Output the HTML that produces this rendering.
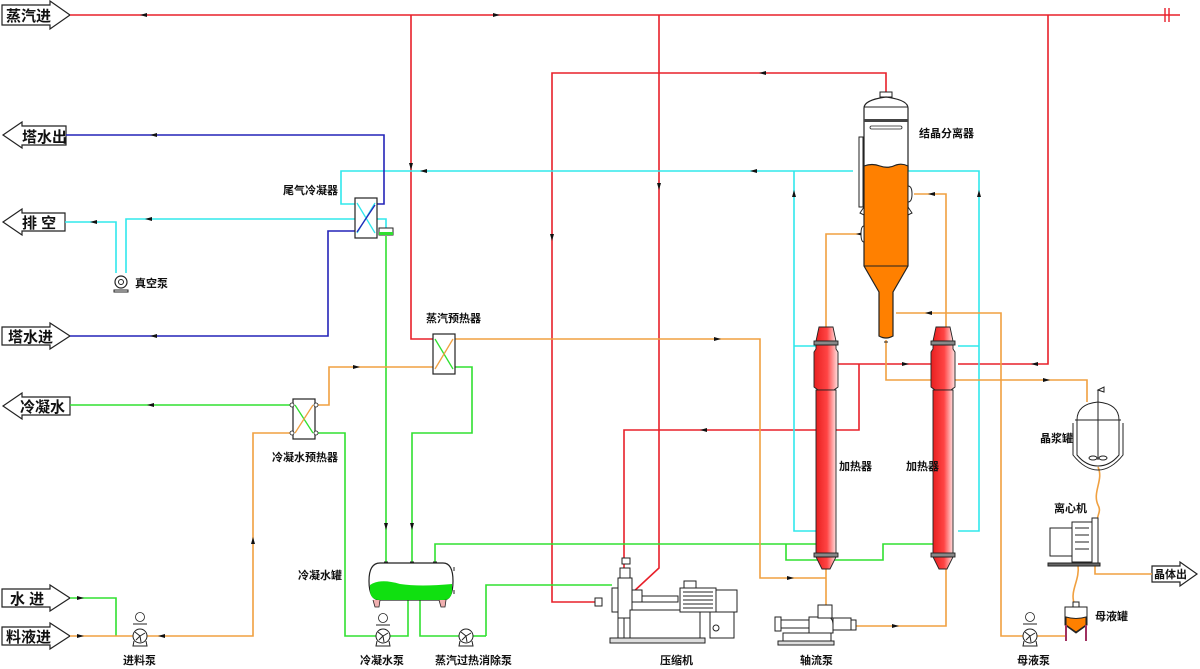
<!DOCTYPE html>
<html><head><meta charset="utf-8"><style>
html,body{margin:0;padding:0;background:#fff;}
svg{display:block;}
text{font-family:"Liberation Sans","Noto Sans CJK SC","WenQuanYi Zen Hei",sans-serif;font-weight:bold;fill:#111;}
.r{stroke:#e8202a;}.c{stroke:#30e8ec;}.b{stroke:#2424b8;}.g{stroke:#30e030;}.o{stroke:#f0a040;}
.r,.c,.b,.g,.o{fill:none;stroke-width:1.6;}
.k{fill:none;stroke:#222;stroke-width:1;}
</style></head><body>
<svg width="1200" height="669" viewBox="0 0 1200 669" xmlns="http://www.w3.org/2000/svg">
<defs>
<linearGradient id="hg" x1="0" x2="1" y1="0" y2="0"><stop offset="0" stop-color="#e82020"/><stop offset="0.55" stop-color="#f44"/><stop offset="1" stop-color="#ffe0e0"/></linearGradient>
<g id="pump"><circle cx="0" cy="0" r="7" fill="#fff" stroke="#222"/><path d="M0,0 L-5,-4 M0,0 L5,-3 M0,0 L1,6 M0,0 L-4,4" stroke="#222" fill="none"/><path d="M-6,5 L-7,10 L7,10 L6,5" fill="none" stroke="#222"/></g>
<g id="mot"><circle cx="0" cy="0" r="4.5" fill="#fff" stroke="#222" stroke-width=".8"/><line x1="-7" y1="7" x2="7" y2="7" stroke="#222"/></g>
<g id="hx"><rect x="0" y="0" width="22" height="40" fill="#fff" stroke="#222" stroke-width="1.2"/></g>
</defs>

<g stroke="#222" stroke-width="1.2" fill="#fff">
<path d="M2,5 H50 V1 L70,15 L50,29 V25 H2 Z"/>
<path d="M66,126 H22 V122 L3,135 L22,148 V145 H66 Z"/>
<path d="M65,213 H22 V209 L3,222 L22,235 V231 H65 Z"/>
<path d="M2,327 H50 V323 L70,336 L50,349 V345 H2 Z"/>
<path d="M70,397 H22 V393 L3,406 L22,419 V415 H70 Z"/>
<path d="M2,589 H50 V585 L70,598 L50,611 V607 H2 Z"/>
<path d="M2,627 H50 V623 L70,636 L50,649 V645 H2 Z"/>
<path d="M1152,566 H1180 V562 L1197,574 L1180,586 V582 H1152 Z"/>
</g>
<g font-size="15">
<text x="6" y="21">蒸汽进</text>
<text x="22" y="142">塔水出</text>
<text x="22" y="228">排 空</text>
<text x="8" y="342">塔水进</text>
<text x="20" y="412">冷凝水</text>
<text x="10" y="604">水 进</text>
<text x="6" y="642">料液进</text>
</g>
<text x="1154" y="578" font-size="11">晶体出</text>

<path class="r" d="M70,15 H1180"/>
<path d="M1165,8 V22 M1169,8 V22" stroke="#e8202a" stroke-width="1.4"/>
<path class="r" d="M411,15 V339 H433"/>
<path class="r" d="M659,15 V568 L632,593"/>
<path class="r" d="M886,92 V73 H552 V602 H596"/>
<path class="r" d="M1048,15 V364 H958"/>
<path class="r" d="M933,364 H837"/>
<path class="r" d="M859,364 V430 H624 V590"/>
<path class="c" d="M853,171 H341 V204 H355"/>
<path class="c" d="M908,171 H979 V531 H958"/>
<path class="c" d="M794,171 V531 H816"/>
<path class="c" d="M794,346 H816 M958,346 H979"/>
<path class="c" d="M355,219 H126 V273"/>
<path class="c" d="M116,273 V222 H65"/>
<path class="c" d="M377,219 H386 V229"/>
<path class="b" d="M66,135 H384 V204 H377"/>
<path class="b" d="M355,231 H328 V336 H70"/>
<path class="g" d="M386,236 V562"/>
<path class="g" d="M455,367 H472 V433 H412 V562"/>
<path class="g" d="M435,562 V544 H816"/>
<path class="g" d="M786,544 V560 H883 V544 H935"/>
<path class="g" d="M486,636 V585 H612"/>
<path class="g" d="M473,636 H486"/>
<path class="g" d="M459,636 H420 V600"/>
<path class="g" d="M390,636 H408 V600"/>
<path class="g" d="M376,636 H345 V433 H315"/>
<path class="g" d="M293,405 H70"/>
<path class="g" d="M70,598 H116 V636"/>
<path class="o" d="M315,405 H329 V367 H433"/>
<path class="o" d="M455,339 H760 V578 H826"/>
<path class="o" d="M826,568 V605"/>
<path class="o" d="M855,626 H946 V568"/>
<path class="o" d="M70,636 H133"/>
<path class="o" d="M147,636 H253 V433 H293"/>
<path class="o" d="M826,327 V234 H862"/>
<path class="o" d="M914,194 H946 V327"/>
<path class="o" d="M896,313 H1001 V636 H1023"/>
<path class="o" d="M1037,636 H1065"/>
<path class="o" d="M886,340 V380 H1087 V402"/>
<path class="o" d="M1098,467 C1104,480 1092,492 1098,505 C1102,512 1096,516 1098,520"/>
<path class="o" d="M1095,565 V574 H1152"/>
<path class="o" d="M1078,565 C1080,580 1070,590 1074,603"/>

<g fill="#111">
<path d="M140,15 l7,-2 v4z"/><path d="M500,15 l-7,-2 v4z"/>
<path d="M150,135 l7,-2 v4z"/><path d="M420,171 l7,-2 v4z"/><path d="M750,171 l7,-2 v4z"/>
<path d="M90,222 l7,-2 v4z"/><path d="M145,219 l7,-2 v4z"/><path d="M150,336 l7,-2 v4z"/>
<path d="M147,405 l7,-2 v4z"/><path d="M411,170 l-2,-7 h4z"/><path d="M552,241 l-2,-7 h4z"/>
<path d="M759,73 l7,-2 v4z"/><path d="M659,190 l-2,-7 h4z"/>
<path d="M794,190 l-2,7 h4z"/><path d="M979,190 l-2,7 h4z"/>
<path d="M360,367 l-7,-2 v4z"/><path d="M721,339 l-7,-2 v4z"/><path d="M253,537 l-2,7 h4z"/>
<path d="M386,530 l-2,-7 h4z"/><path d="M412,530 l-2,-7 h4z"/>
<path d="M84,598 l-7,-2 v4z"/><path d="M84,636 l-7,-2 v4z"/><path d="M158,636 l7,-2 v4z"/>
<path d="M909,364 l-7,-2 v4z"/><path d="M1031,364 l7,-2 v4z"/><path d="M700,430 l7,-2 v4z"/>
<path d="M794,578 l-7,-2 v4z"/><path d="M899,626 l-7,-2 v4z"/>
<path d="M856,234 l7,-2 v4z"/><path d="M928,194 l7,-2 v4z"/><path d="M925,313 l7,-2 v4z"/>
<path d="M1050,380 l-7,-2 v4z"/>
</g>

<use href="#hx" x="355" y="198"/>
<path d="M357,203 L375,233 M375,203 L357,233" stroke="#30e8ec" stroke-width="1.3"/>
<path d="M375,205 L357,232" stroke="#2424b8" stroke-width="1.3"/>
<rect x="379" y="228" width="14" height="7" fill="#fff" stroke="#222"/><rect x="379" y="232" width="14" height="3" fill="#30e030"/>
<use href="#hx" x="433" y="334"/>
<path d="M435,339 L453,369" stroke="#30e030" stroke-width="1.3"/><path d="M453,339 L435,369" stroke="#f0a040" stroke-width="1.3"/>
<use href="#hx" x="293" y="399"/>
<path d="M295,405 L313,433" stroke="#30e030" stroke-width="1.3"/><path d="M313,405 L295,433" stroke="#f0a040" stroke-width="1.3"/>
<g fill="#fff" stroke="#222" stroke-width=".8"><circle cx="292" cy="405" r="2"/><circle cx="292" cy="433" r="2"/><circle cx="316" cy="405" r="2"/><circle cx="316" cy="433" r="2"/></g>

<circle cx="121" cy="282" r="6" fill="#fff" stroke="#222" stroke-width="1.2"/><circle cx="121" cy="282" r="2.5" fill="none" stroke="#222"/>
<path d="M114,290 H128 V292 H114Z" fill="#fff" stroke="#222"/>

<path d="M380,563 H443 Q453,563 453,581 Q453,600 443,600 H380 Q369,600 369,581 Q369,563 380,563Z" fill="#fff" stroke="#222" stroke-width="1.2"/>
<path d="M370,585 Q380,578 400,584 Q420,587 452,584 L452,590 Q452,600 443,600 H380 Q370,600 370,590Z" fill="#10e010"/>
<path d="M373,600 l2,7 h4 l1,-7 M439,600 l2,7 h4 l1,-7" fill="#f0b0b0" stroke="#222" stroke-width=".8"/>
<path d="M384,562 h4 M410,562 h4 M433,562 h4 M454,567 v4 M454,590 v4" stroke="#222"/>

<use href="#pump" x="140" y="636"/><use href="#mot" x="140" y="617"/>
<use href="#pump" x="383" y="636"/><use href="#mot" x="383" y="618"/>
<use href="#pump" x="466" y="636"/>
<use href="#pump" x="1030" y="636"/><use href="#mot" x="1030" y="617"/>

<path d="M880,92 h12 v5 h-12z" fill="#fff" stroke="#222"/>
<path d="M864,170 V108 Q864,100 886,97 Q908,100 908,108 V170Z" fill="#fff" stroke="#222" stroke-width="1.2"/>
<line x1="864" y1="107" x2="908" y2="107" stroke="#222"/>
<rect x="864" y="119" width="44" height="3" fill="#444"/>
<rect x="870" y="126" width="32" height="3" rx="1.5" fill="#fff" stroke="#222" stroke-width=".8"/>
<path d="M864,166 Q872,163 880,166 Q888,169 896,165 Q902,163 908,166 V266 L893,292 V336 Q886,340 879,336 V292 L864,266Z" fill="#ff8000" stroke="#222" stroke-width="1.2"/>
<line x1="864" y1="266" x2="908" y2="266" stroke="#222"/>
<path d="M859,137 h4 v70 h-4z" fill="#fff" stroke="#222"/>
<path d="M860,213 l4,-6 v8z M912,213 l-4,-6 v8z" fill="#fff" stroke="#222"/>
<path d="M908,186 q4,0 4,8 q0,8 -4,8z" fill="#fff" stroke="#222"/>
<path d="M864,226 q-3,0 -3,8 q0,8 3,8z" fill="#fff" stroke="#222"/>
<path d="M884,342 h4" stroke="#222"/>

<g stroke="#222" stroke-width=".9">
<path d="M819,327 h14 l3,14 h-20z" fill="url(#hg)"/>
<rect x="814" y="341" width="24" height="4" fill="#888"/>
<path d="M816,345 h20 v4 l2,3 v35 l-4,3 H818 l-4,-3 v-35 l2,-3z" fill="url(#hg)"/>
<rect x="816" y="390" width="20" height="165" fill="url(#hg)"/>
<rect x="814" y="553" width="24" height="4" fill="#888"/>
<path d="M816,557 h20 l-6,12 h-8z" fill="url(#hg)"/>
<path d="M936,327 h14 l3,14 h-20z" fill="url(#hg)"/>
<rect x="931" y="341" width="24" height="4" fill="#888"/>
<path d="M933,345 h20 v4 l2,3 v35 l-4,3 H935 l-4,-3 v-35 l2,-3z" fill="url(#hg)"/>
<rect x="933" y="390" width="20" height="165" fill="url(#hg)"/>
<rect x="931" y="553" width="24" height="4" fill="#888"/>
<path d="M933,557 h20 l-6,12 h-8z" fill="url(#hg)"/>
</g>

<g stroke="#222" stroke-width="1" fill="#fff">
<path d="M1077,420 Q1077,404 1098,402 Q1119,404 1119,420 V455 Q1110,466 1098,466 Q1086,466 1077,455Z"/>
<line x1="1075" y1="420" x2="1121" y2="420"/>
<line x1="1098" y1="390" x2="1098" y2="460"/>
<path d="M1098,390 l6,-3 v5z"/>
<ellipse cx="1093" cy="458" rx="4" ry="2"/><ellipse cx="1103" cy="458" rx="4" ry="2"/>
<path d="M1073,423 V455 Q1085,470 1098,470 Q1111,470 1123,455 V423" fill="none"/>
</g>

<g stroke="#222" stroke-width="1" fill="#fff">
<rect x="1050" y="528" width="22" height="28"/>
<rect x="1072" y="522" width="20" height="40"/>
<rect x="1092" y="518" width="6" height="46"/>
<path d="M1075,528 h14 M1075,535 h14 M1075,542 h14 M1075,549 h14" />
<rect x="1048" y="563" width="52" height="3" fill="#666"/>
</g>

<g stroke="#222" stroke-width="1">
<path d="M1065,607 h22 v18 l-11,8 l-11,-8z" fill="#fff"/>
<path d="M1066,617 q10,3 20,0 v8 l-10,7 l-10,-7z" fill="#ff8000"/>
<path d="M1066,625 v16 M1086,625 v16" stroke="#a03060" stroke-width="2"/>
<rect x="1073" y="602" width="6" height="5" fill="#fff"/>
</g>

<g stroke="#222" stroke-width="1" fill="#fff">
<rect x="618" y="578" width="14" height="40"/>
<rect x="612" y="588" width="6" height="24"/>
<rect x="620" y="568" width="10" height="10"/>
<rect x="618" y="618" width="6" height="22"/>
<rect x="632" y="590" width="10" height="12"/>
<rect x="642" y="596" width="36" height="6"/>
<rect x="630" y="610" width="70" height="28"/>
<rect x="680" y="588" width="36" height="24"/>
<path d="M683,592 h30 M683,596 h30 M683,600 h30 M683,604 h30 M683,608 h30" />
<rect x="684" y="581" width="12" height="7"/>
<rect x="716" y="590" width="21" height="22"/>
<rect x="710" y="612" width="24" height="26"/>
<circle cx="716" cy="628" r="3"/>
<rect x="610" y="638" width="95" height="5" fill="#ddd"/>
<rect x="595" y="598" width="7" height="8"/>
<rect x="622" y="558" width="8" height="6"/>
</g>

<g stroke="#222" stroke-width="1" fill="#fff">
<rect x="775" y="617" width="6" height="14"/>
<rect x="781" y="620" width="28" height="8"/>
<path d="M809,617 h18 q6,0 6,8 v8 h-24z"/>
<rect x="818" y="605" width="14" height="13"/>
<rect x="833" y="618" width="18" height="12"/>
<rect x="851" y="620" width="5" height="10"/>
<rect x="783" y="633" width="48" height="8"/>
<rect x="778" y="641" width="56" height="4" fill="#ddd"/>
</g>

<g font-size="11">
<text x="283" y="194">尾气冷凝器</text>
<text x="135" y="287">真空泵</text>
<text x="426" y="322">蒸汽预热器</text>
<text x="272" y="461">冷凝水预热器</text>
<text x="298" y="579">冷凝水罐</text>
<text x="123" y="664">进料泵</text>
<text x="360" y="664">冷凝水泵</text>
<text x="435" y="664">蒸汽过热消除泵</text>
<text x="660" y="664">压缩机</text>
<text x="800" y="664">轴流泵</text>
<text x="1017" y="664">母液泵</text>
<text x="919" y="137">结晶分离器</text>
<text x="839" y="470">加热器</text>
<text x="906" y="470">加热器</text>
<text x="1040" y="442">晶浆罐</text>
<text x="1054" y="512">离心机</text>
<text x="1095" y="620">母液罐</text>
</g>
</svg>
</body></html>
